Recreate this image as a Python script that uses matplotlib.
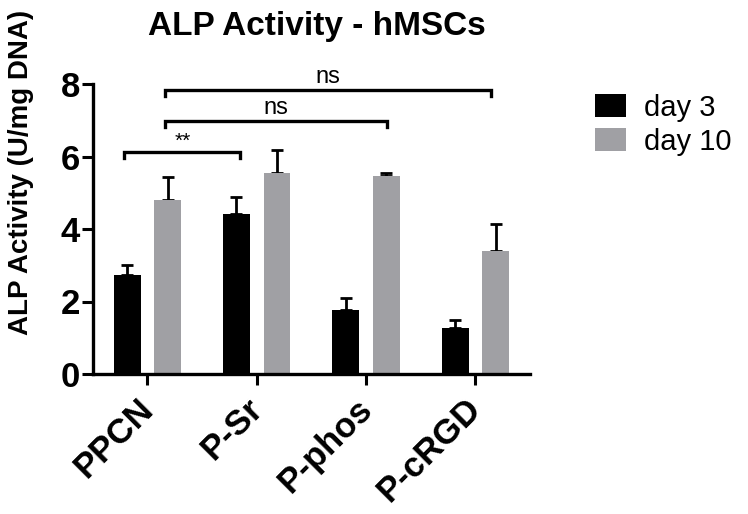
import matplotlib
matplotlib.use("Agg")
import matplotlib.pyplot as plt
import numpy as np

plt.rcParams['font.family'] = ['Liberation Sans', 'DejaVu Sans']

categories = ["PPCN", "P-Sr", "P-phos", "P-cRGD"]
series_names = ["day 3", "day 10"]
day3_mean = [2.74, 4.41, 1.77, 1.28]
day3_err = [0.28, 0.48, 0.32, 0.22]
day10_mean = [4.81, 5.54, 5.47, 3.38]
day10_err = [0.62, 0.63, 0.08, 0.76]
yticks = [0, 2, 4, 6, 8]

# significance brackets: (x_left, x_right, y, label)
brackets = [(-0.21, 0.85, 6.12, "**"),
            (0.16, 2.19, 6.99, "ns"),
            (0.16, 3.14, 7.83, "ns")]

black = "#000000"
gray = "#A0A0A4"

fig = plt.figure(figsize=(7.48, 5.14), dpi=100)
ax = fig.add_axes([92.7/748, 1-374/514, (530-92.7)/748, 290/514])

x = np.arange(len(categories))
off = 0.185
w = 0.245
ax.bar(x - off, day3_mean, width=w, color=black, label=series_names[0], zorder=2)
ax.bar(x + off, day10_mean, width=w, color=gray, label=series_names[1], zorder=2)
ax.errorbar(x - off, day3_mean, yerr=[np.zeros(4), day3_err], fmt='none',
            ecolor=black, elinewidth=2.0, capsize=4, capthick=2.0, zorder=3)
ax.errorbar(x + off, day10_mean, yerr=[np.zeros(4), day10_err], fmt='none',
            ecolor=black, elinewidth=2.0, capsize=4, capthick=2.0, zorder=1)

dh = 0.17
for xl, xr, yy, lab in brackets:
    ax.plot([xl, xl, xr, xr], [yy - dh, yy, yy, yy - dh], color=black, lw=2.4,
            clip_on=False, solid_joinstyle='miter')
    ax.text((xl + xr) / 2, yy + 0.05, lab, ha='center', va='bottom',
            fontsize=17 if lab != "**" else 15, clip_on=False)

ax.set_xlim(-0.5, 3.5)
ax.set_ylim(0, 8)
ax.set_yticks(yticks)
ax.set_yticklabels([str(v) for v in yticks], fontsize=25, fontweight='bold')
# major ticks: marks only; minor ticks (slightly left): labels only
ax.set_xticks(x)
ax.set_xticklabels([])
ax.set_xticks(x - 0.1, minor=True)
ax.set_xticklabels(categories, minor=True, fontsize=25, fontweight='bold',
                   rotation=45, ha='right', rotation_mode='anchor')
ax.tick_params(axis='both', which='major', direction='out', length=8, width=2.2)
ax.tick_params(axis='y', pad=1)
ax.tick_params(axis='x', which='minor', length=0, pad=13)
for s in ['top', 'right']:
    ax.spines[s].set_visible(False)
for s in ['left', 'bottom']:
    ax.spines[s].set_linewidth(2.4)

fig.text(316.5/748, 1-26/514, "ALP Activity - hMSCs", ha='center', va='center',
         fontsize=24, fontweight='bold')
fig.text(21/748, 1-172/514, "ALP Activity (U/mg DNA)", ha='center', va='center',
         rotation=90, fontsize=20, fontweight='bold')

fig.legend(loc='upper left', bbox_to_anchor=(595/748, 1-94/514), frameon=False,
           fontsize=21, handlelength=1.07, handleheight=0.83, handletextpad=0.62,
           labelspacing=0.2, borderpad=0, borderaxespad=0)

fig.savefig("out.png", dpi=100)
